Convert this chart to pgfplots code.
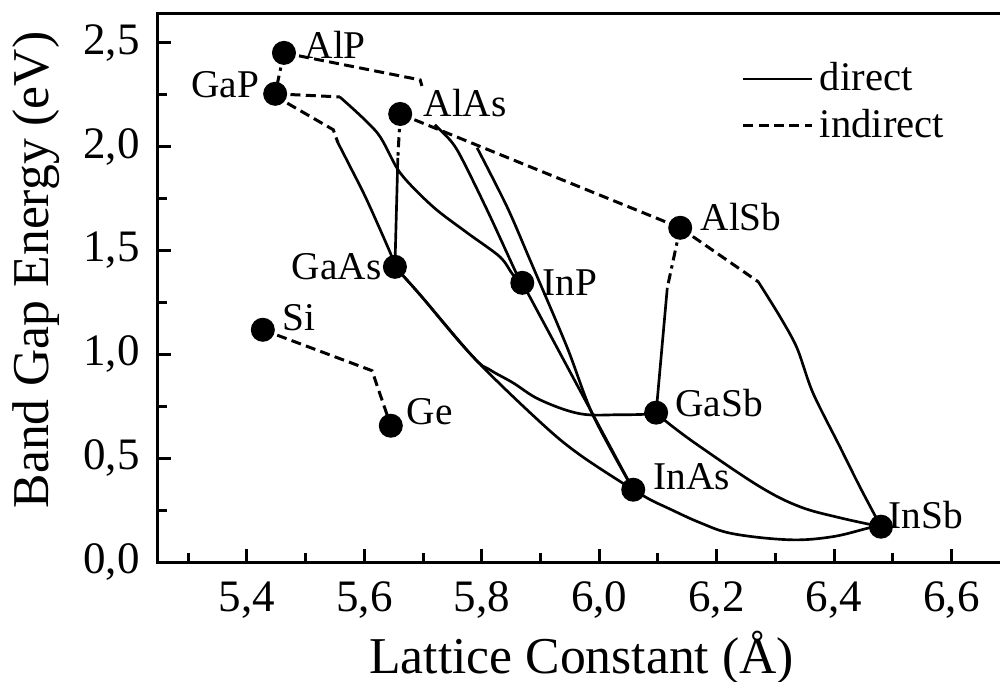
\documentclass[border=0pt]{standalone}
\usepackage{fontspec}
\setmainfont{Liberation Serif}
\usepackage{pgfplots}
\pgfplotsset{compat=1.18}
\begin{document}
\begin{tikzpicture}[
  dir/.style={black, line width=0.8pt, solid},
  ind/.style={black, line width=0.9pt, dash pattern=on 3pt off 1.6pt},
  dd/.style={black, line width=0.9pt, dash pattern=on 3pt off 1.5pt on 1pt off 1.5pt},
  lab/.style={font=\fontsize{11.8}{13}\selectfont, inner sep=0pt}
]
\begin{axis}[
  at={(0,0)}, anchor=south west,
  scale only axis, width=254.1pt, height=164.7pt,
  xmin=5.2484, xmax=6.6913, ymin=0, ymax=2.643,
  axis line style={line width=0.9pt, black},
  xtick={5.4,5.6,5.8,6.0,6.2,6.4,6.6},
  ytick={0,0.5,1,1.5,2,2.5},
  minor xtick={5.3,5.5,5.7,5.9,6.1,6.3,6.5},
  minor ytick={0.25,0.75,1.25,1.75,2.25},
  tick align=inside, xtick pos=bottom, ytick pos=left,
  major tick length=4pt, minor tick length=2.6pt,
  every tick/.style={line width=0.9pt, black},
  /pgf/number format/use comma,
  /pgf/number format/fixed,
  /pgf/number format/fixed zerofill,
  /pgf/number format/precision=1,
  /pgf/number format/assume math mode=true,
  ticklabel style={font=\fontsize{13.5}{15}\selectfont},
  xticklabel style={yshift=-2.4pt},
  yticklabel style={xshift=-2pt},
  xlabel={Lattice Constant (Å)},
  ylabel={Band Gap Energy (eV)},
  label style={font=\fontsize{15.5}{18}\selectfont},
  xlabel style={at={(axis description cs:0.5,-0.2022)}, anchor=base},
  ylabel style={at={(axis description cs:-0.1297,0.532)}, anchor=base},
  legend style={draw=none, fill=none, at={(axis cs:6.242,2.441)}, anchor=north west,
    font=\fontsize{12.2}{13}\selectfont, row sep=0pt, inner sep=0pt},
  legend cell align=left,
  legend image code/.code={\draw[#1] (0pt,0pt) -- (20.5pt,0pt);},
]
% AlP - GaP
\addplot[dd, forget plot] coordinates {(5.463,2.451) (5.448,2.254)};
% AlP dashed
\addplot[ind, forget plot] coordinates {(5.463,2.451) (5.695,2.321) (5.698,2.292)};
% line A (to InP)
\addplot[dir, smooth, tension=0.5, forget plot] coordinates {(5.720,2.105) (5.729,2.080) (5.758,1.984) (5.809,1.695) (5.860,1.383) (5.869,1.344)};
% GaP - InP
\addplot[ind, forget plot] coordinates {(5.448,2.254) (5.558,2.239)};
\addplot[dir, smooth, tension=0.5, forget plot] coordinates {(5.558,2.239) (5.622,2.066) (5.661,1.873) (5.717,1.710) (5.775,1.585) (5.831,1.469) (5.853,1.383) (5.869,1.344)};
% GaP - GaAs
\addplot[ind, forget plot] coordinates {(5.448,2.254) (5.468,2.210) (5.547,2.081) (5.555,2.018)};
\addplot[dir, smooth, tension=0.5, forget plot] coordinates {(5.555,2.018) (5.576,1.902) (5.604,1.744) (5.644,1.489) (5.652,1.421)};
% AlAs - GaAs
\addplot[dd, forget plot] coordinates {(5.661,2.157) (5.657,1.946)};
\addplot[dir, forget plot] coordinates {(5.657,1.946) (5.652,1.421)};
% AlAs - AlSb
\addplot[ind, forget plot] coordinates {(5.661,2.157) (6.138,1.609)};
% line B (to InAs)
\addplot[dir, smooth, tension=0.5, forget plot] coordinates {(5.792,1.994) (5.843,1.710) (5.882,1.455) (5.945,1.036) (5.989,0.709) (6.058,0.348)};
% InP - InAs
\addplot[dir, forget plot] coordinates {(5.869,1.344) (6.058,0.348)};
% GaAs - InAs
\addplot[dir, smooth, tension=0.6, forget plot] coordinates {(5.652,1.421) (5.695,1.286) (5.785,0.988) (5.899,0.675) (5.967,0.516) (6.058,0.348)};
% GaAs - GaSb
\addplot[dir, smooth, tension=0.6, forget plot] coordinates {(5.652,1.421) (5.695,1.286) (5.785,0.988) (5.814,0.925) (5.853,0.863) (5.899,0.781) (5.967,0.714) (6.035,0.709) (6.085,0.712) (6.097,0.719)};
% AlSb - GaSb
\addplot[dd, forget plot] coordinates {(6.138,1.609) (6.116,1.320)};
\addplot[dir, forget plot] coordinates {(6.116,1.320) (6.097,0.719)};
% AlSb - InSb
\addplot[ind, forget plot] coordinates {(6.138,1.609) (6.271,1.349)};
\addplot[dir, smooth, tension=0.5, forget plot] coordinates {(6.271,1.349) (6.308,1.181) (6.337,1.030) (6.364,0.815) (6.410,0.555) (6.444,0.362) (6.480,0.170)};
% GaSb - InSb
\addplot[dir, smooth, tension=0.6, forget plot] coordinates {(6.097,0.719) (6.121,0.661) (6.172,0.555) (6.274,0.362) (6.342,0.266) (6.410,0.213) (6.480,0.170)};
% InAs - InSb
\addplot[dir, smooth, tension=0.6, forget plot] coordinates {(6.058,0.348) (6.087,0.300) (6.116,0.261) (6.172,0.189) (6.228,0.136) (6.325,0.107) (6.398,0.122) (6.461,0.165) (6.480,0.170)};
% Si - Ge
\addplot[ind, forget plot] coordinates {(5.427,1.118) (5.613,0.921) (5.645,0.656)};
% compounds
\addplot[only marks, mark=*, mark size=3.4pt, black, forget plot] coordinates {
 (5.463,2.451) (5.448,2.254) (5.661,2.157) (5.652,1.421) (5.427,1.118) (5.645,0.656)
 (5.869,1.344) (6.138,1.609) (6.097,0.719) (6.058,0.348) (6.480,0.170)};
\addlegendimage{dir}\addlegendentry{direct}
\addlegendimage{ind}\addlegendentry{indirect}
\node[lab, anchor=west] at (axis cs:5.4971,2.489) {AlP};
\node[lab, anchor=east] at (axis cs:5.4221,2.300) {GaP};
\node[lab, anchor=west] at (axis cs:5.6998,2.210) {AlAs};
\node[lab, anchor=east] at (axis cs:5.630,1.421) {GaAs};
\node[lab, anchor=west] at (axis cs:5.4596,1.176) {Si};
\node[lab, anchor=west] at (axis cs:5.6709,0.723) {Ge};
\node[lab, anchor=west] at (axis cs:5.9026,1.344) {InP};
\node[lab, anchor=west] at (axis cs:6.1717,1.662) {AlSb};
\node[lab, anchor=west] at (axis cs:6.129,0.767) {GaSb};
\node[lab, anchor=west] at (axis cs:6.0917,0.411) {InAs};
\node[lab, anchor=west] at (axis cs:6.4917,0.228) {InSb};
\end{axis}
\pgfresetboundingbox
\path (-47.4pt,-35.7pt) rectangle (252.6pt,168.6pt);
\end{tikzpicture}
\end{document}
